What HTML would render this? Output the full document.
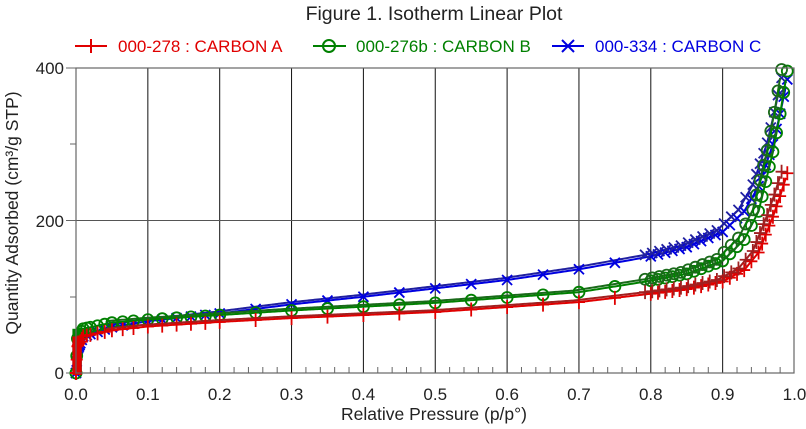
<!DOCTYPE html><html><head><style>body{margin:0;background:#fff}svg{display:block}text{font-family:"Liberation Sans",Arial,sans-serif}</style></head><body>
<svg id="s" width="806" height="429" xmlns="http://www.w3.org/2000/svg">
<rect width="806" height="429" fill="#fff"/>
<text x="434" y="20" font-size="19.5" text-anchor="middle" fill="#222">Figure 1. Isotherm Linear Plot</text>
<g font-size="17">
<line x1="75" y1="46" x2="107" y2="46" stroke="#e00000" stroke-width="2"/><path d="M91 39v14M84 46h14" stroke="#e00000" stroke-width="2"/>
<text x="118" y="52" fill="#e00000">000-278 : CARBON A</text>
<line x1="313" y1="46" x2="346" y2="46" stroke="#008000" stroke-width="2"/><circle cx="329" cy="46" r="6" fill="none" stroke="#008000" stroke-width="2"/>
<text x="356" y="52" fill="#008000">000-276b : CARBON B</text>
<line x1="552" y1="46" x2="584" y2="46" stroke="#0000e0" stroke-width="2"/><path d="M562 40l12 12M562 52l12-12" stroke="#0000e0" stroke-width="2"/>
<text x="595" y="52" fill="#0000e0">000-334 : CARBON C</text>
</g>
<g id="grid"></g>
<g id="data"></g>
<rect x="76" y="68" width="718" height="305" fill="none" stroke="#666" stroke-width="1.2"/>
<text x="64" y="74" font-size="17" text-anchor="end" fill="#222">400</text>
<text x="64" y="227" font-size="17" text-anchor="end" fill="#222">200</text>
<text x="64" y="379" font-size="17" text-anchor="end" fill="#222">0</text>
<text x="434" y="420" font-size="17.5" text-anchor="middle" fill="#222">Relative Pressure (p/p°)</text>
<text transform="translate(18,213) rotate(-90)" font-size="17.5" text-anchor="middle" fill="#222">Quantity Adsorbed (cm³/g STP)</text>
</svg>
<script>
var NS="http://www.w3.org/2000/svg",g=document.getElementById('grid'),d=document.getElementById('data');
function X(p){return 76+p*718.5}function Y(v){return 373-v*0.7625}
function el(t,a,p){var e=document.createElementNS(NS,t);for(var k in a)e.setAttribute(k,a[k]);(p||d).appendChild(e);return e}
var h='';
for(var i=0;i<=10;i++){var x=X(i/10);if(i>0&&i<10)h+='<line x1="'+x+'" y1="68" x2="'+x+'" y2="373" stroke="#111" stroke-width="1"/>';
h+='<text x="'+x+'" y="400" font-size="17" text-anchor="middle" fill="#222">'+(i/10).toFixed(1)+'</text>';}
for(var i=1;i<50;i++){if(i%5)h+='<line x1="'+X(i/50)+'" y1="373" x2="'+X(i/50)+'" y2="367" stroke="#666"/>';}
h+='<line x1="76" y1="220.5" x2="794" y2="220.5" stroke="#555"/>';
h+='<line x1="66" y1="68" x2="76" y2="68" stroke="#666"/><line x1="66" y1="220.5" x2="76" y2="220.5" stroke="#666"/><line x1="66" y1="373" x2="76" y2="373" stroke="#666"/>';
h+='<line x1="70" y1="297" x2="76" y2="297" stroke="#666"/><line x1="70" y1="144" x2="76" y2="144" stroke="#666"/>';
g.innerHTML=h;
function interp(t,p){for(var i=1;i<t.length;i++)if(p<=t[i][0]){var a=t[i-1],b=t[i];return a[1]+(b[1]-a[1])*(p-a[0])/(b[0]-a[0])}return t[t.length-1][1]}
var A=[[0,0],[0.002,35],[0.01,48],[0.05,56],[0.1,61],[0.2,67],[0.3,72],[0.5,80],[0.7,93],[0.8,104],[0.85,110],[0.9,120],[0.93,135],[0.95,158],[0.97,205],[0.98,232],[0.99,262]];
var B=[[0,0],[0.002,45],[0.01,58],[0.05,66],[0.1,70],[0.2,76],[0.3,82],[0.5,92],[0.7,106],[0.8,121],[0.85,130],[0.9,147],[0.93,175],[0.95,212],[0.97,290],[0.98,340],[0.99,396]];
var C=[[0,0],[0.002,30],[0.01,48],[0.05,60],[0.1,68],[0.2,78],[0.3,90],[0.4,100],[0.5,111],[0.6,122],[0.7,136],[0.8,153],[0.85,165],[0.9,185],[0.93,212],[0.95,245],[0.97,300],[0.98,340],[0.99,385]];
var ps=[0,0,0.001,0.002,0.003,0.004,0.005,0.006,0.008,0.01,0.015,0.02,0.03,0.04,0.05,0.065,0.08,0.1,0.12,0.14,0.16,0.18,0.2,0.25,0.3,0.35,0.4,0.45,0.5,0.55,0.6,0.65,0.7,0.75,0.8,0.81,0.82,0.83,0.84,0.85,0.86,0.87,0.88,0.89,0.9,0.91,0.92,0.93,0.94,0.95,0.955,0.96,0.965,0.97,0.975,0.98,0.985,0.99];
function curve(t,col,dk,off,mk){
 var pts=[];for(var p=0;p<=0.99;p+=0.002)pts.push(X(p)+','+Y(interp(t,p)));
 var pts2=[];for(var p=0.05;p<=0.99;p+=0.002)pts2.push(X(p-off)+','+Y(interp(t,p)+2));
 el('polyline',{points:pts.join(' '),fill:'none',stroke:col,'stroke-width':2});
 el('polyline',{points:pts2.join(' '),fill:'none',stroke:dk,'stroke-width':2});
 el('rect',{x:X(-0.005),y:Y(interp(t,0.01)),width:X(0.008)-X(-0.005),height:373-Y(interp(t,0.01))+2,fill:col});
 ps.forEach(function(p,i){[[p,col],[p-off,dk]].forEach(function(q,j){if(j==1&&p<0.8)return;var x=X(q[0]),y=Y(interp(t,p)+(j?2:0));
  if(mk=='+')el('path',{d:'M'+x+' '+(y-7)+'v14M'+(x-6)+' '+y+'h12',stroke:q[1],'stroke-width':1.8,fill:'none'});
  else if(mk=='o')el('circle',{cx:x,cy:y,r:5.5,fill:'none',stroke:q[1],'stroke-width':1.8});
  else el('path',{d:'M'+(x-5)+' '+(y-5)+'l10 10M'+(x-5)+' '+(y+5)+'l10-10',stroke:q[1],'stroke-width':1.8,fill:'none'});});});
}
curve(C,'#0000e0','#2020a0',0.008,'x');
curve(B,'#008000','#1a6a1a',0.008,'o');
curve(A,'#e00000','#a02020',0.008,'+');
</script>
</body></html>
